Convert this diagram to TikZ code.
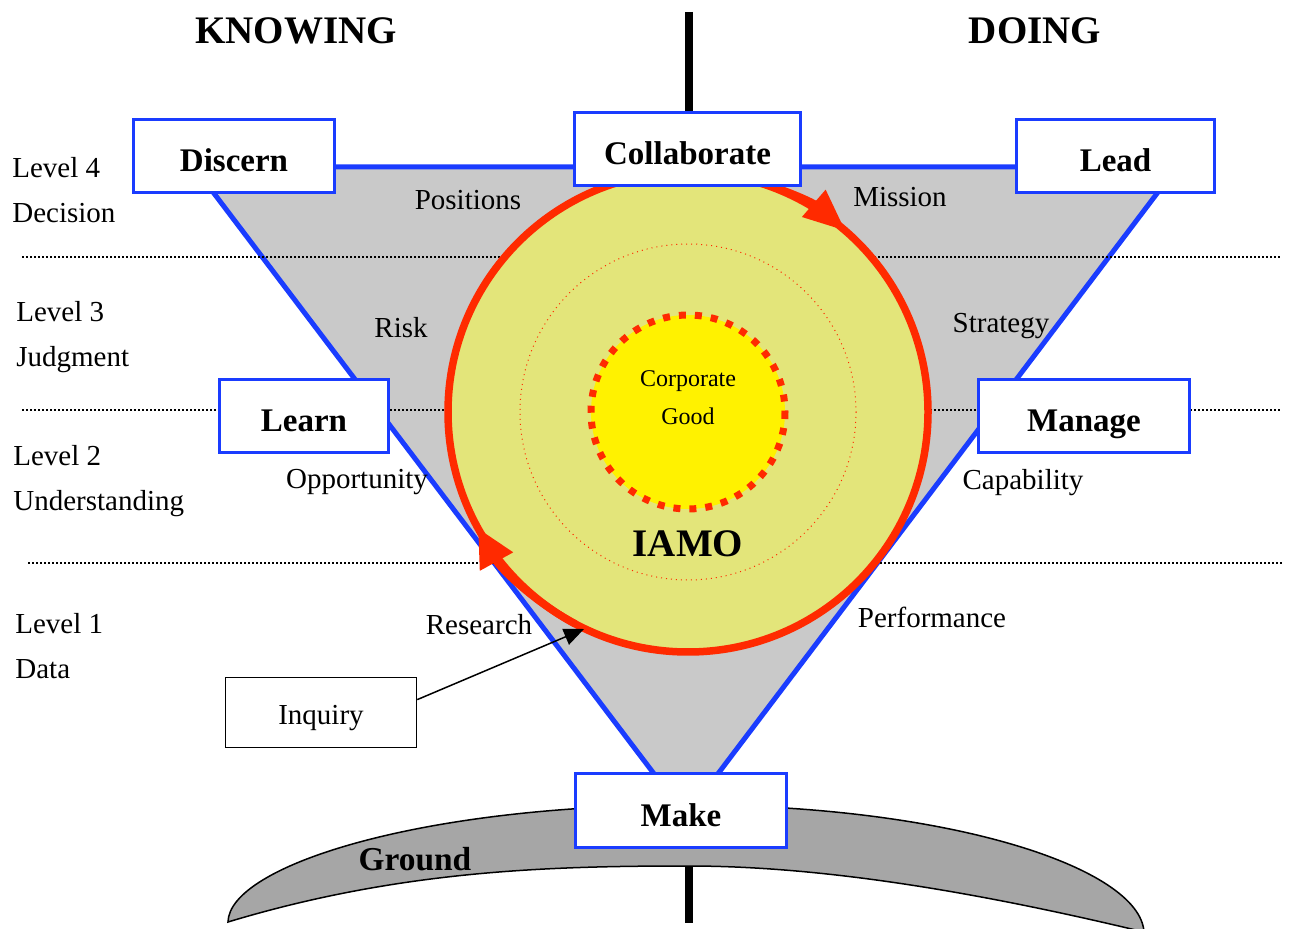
\documentclass[tikz,border=0pt]{standalone}
\usepackage{fontspec}
\setmainfont{Liberation Serif}
\usetikzlibrary{arrows.meta,calc}
\definecolor{tblue}{RGB}{26,60,255}
\definecolor{tred}{RGB}{255,42,0}
\definecolor{tgrey}{RGB}{201,201,201}
\definecolor{cfill}{RGB}{227,229,122}
\definecolor{cyel}{RGB}{255,242,0}
\definecolor{ggrey}{RGB}{166,166,166}
\begin{document}
\begin{tikzpicture}[x=0.5pt,y=-0.5pt,
  box/.style={draw=tblue, line width=1.7pt, fill=white, inner sep=0pt,
    font=\fontsize{16.5}{19}\selectfont\bfseries, text height=16pt, text depth=0pt},
  plainbox/.style={draw=black, line width=0.75pt, fill=white, inner sep=0pt,
    font=\fontsize{14.5}{17}\selectfont, text height=12pt, text depth=0pt},
  lbl/.style={inner sep=0pt, font=\fontsize{14.5}{17}\selectfont},
  lvl/.style={lbl, anchor=base west},
  clbl/.style={lbl, anchor=base},
  head/.style={inner sep=0pt, anchor=base, font=\fontsize{19.5}{23}\selectfont\bfseries},
  dotline/.style={line width=1pt, dash pattern=on 1pt off 1pt},
  axis/.style={line width=3.75pt, black}
]
\useasboundingbox (0,0) rectangle (1290,929);

% central axis
\coordinate (axtop) at (689,12);
\coordinate (axcoll) at (689,112);
\coordinate (axmake) at (689,845);
\coordinate (axbot) at (689,923);
\draw[axis] (axtop) -- (axcoll);
\draw[axis] (axmake) -- (axbot);

% ground
\draw[fill=ggrey, line width=0.75pt]
  (228,922) .. controls (229,866) and (420,805) .. (688,805)
  .. controls (950,805) and (1140,868) .. (1144,932)
  .. controls (990,895) and (830,866) .. (688,866)
  .. controls (550,866) and (400,870) .. (228,922) -- cycle;
\node[inner sep=0pt, anchor=base, font=\fontsize{16.7}{19}\selectfont\bfseries] (ground) at (415,870) {Ground};

% inverted triangle
\fill[tgrey] (194,167) -- (1177,167) -- (686,816) -- cycle;
\draw[tblue, line width=2.5pt] (194,167) -- (1177,167) -- (686,816) -- cycle;

% level separators
\draw[dotline] (22,257) -- (1280,257);
\draw[dotline] (22,410) -- (1280,410);
\draw[dotline] (28,563) -- (1283,563);

% circles
\draw[tred, fill=cfill, line width=3.75pt] (688,412) circle[radius=240];
\draw[tred, line width=0.5pt, dotted] (688,412) circle[radius=168];
\draw[tred, fill=cyel, line width=3.5pt, dash pattern=on 3.5pt off 4.5pt] (688,412) circle[radius=97];

% cycle arrows
\draw[tred, line width=3.75pt, -{Triangle[length=21pt,width=17pt]}]
  (688,412) ++(-80:240) arc[start angle=-80, end angle=-49, radius=240];
\draw[tred, line width=3.75pt, -{Triangle[length=19pt,width=18pt]}]
  (688,412) ++(118:240) arc[start angle=118, end angle=151, radius=240];

\node[inner sep=0pt, anchor=base, font=\fontsize{12}{14}\selectfont] (corp) at (688,387) {Corporate};
\node[inner sep=0pt, anchor=base, font=\fontsize{12}{14}\selectfont] (good) at (688,425) {Good};
\node[head] (iamo) at (688,557) {IAMO};

% headings
\node[head] (knowing) at (296,44) {KNOWING};
\node[head] (doing) at (1035,44) {DOING};

% level labels
\node[lvl] (l4) at (12,178) {Level 4};
\node[lvl] (l4b) at (12,223) {Decision};
\node[lvl] (l3) at (16,322) {Level 3};
\node[lvl] (l3b) at (16,367) {Judgment};
\node[lvl] (l2) at (13,466) {Level 2};
\node[lvl] (l2b) at (13,511) {Understanding};
\node[lvl] (l1) at (15,634) {Level 1};
\node[lvl] (l1b) at (15,679) {Data};

% inner labels
\node[clbl] (positions) at (468,210) {Positions};
\node[clbl] (mission) at (900,207) {Mission};
\node[clbl] (risk) at (401,338) {Risk};
\node[clbl] (strategy) at (1001,333) {Strategy};
\node[clbl] (opportunity) at (357,489) {Opportunity};
\node[clbl] (capability) at (1023,490) {Capability};
\node[clbl] (research) at (479,635) {Research};
\node[clbl] (performance) at (932,628) {Performance};

% boxes
\node[box, minimum width=100.5pt, minimum height=36.5pt] (discern) at (234,156) {Discern};
\node[box, minimum width=113pt, minimum height=36.5pt] (collab) at (687.5,149) {Collaborate};
\node[box, minimum width=99pt, minimum height=36.5pt] (lead) at (1115.5,156) {Lead};
\node[box, minimum width=84.5pt, minimum height=36.5pt] (learn) at (304,416) {Learn};
\node[box, minimum width=105.5pt, minimum height=36.5pt] (manage) at (1084,416) {Manage};
\node[box, minimum width=105.5pt, minimum height=37pt] (make) at (681,810.5) {Make};
\node[plainbox, minimum width=95.5pt, minimum height=35pt] (inquiry) at (321,712.5) {Inquiry};

% inquiry arrow
\coordinate (restip) at (584,629);
\draw[line width=0.75pt, -{Triangle[length=10pt,width=8.5pt]}]
  ($(inquiry.north east)!0.32!(inquiry.south east)$) -- (restip);
\end{tikzpicture}
\end{document}
